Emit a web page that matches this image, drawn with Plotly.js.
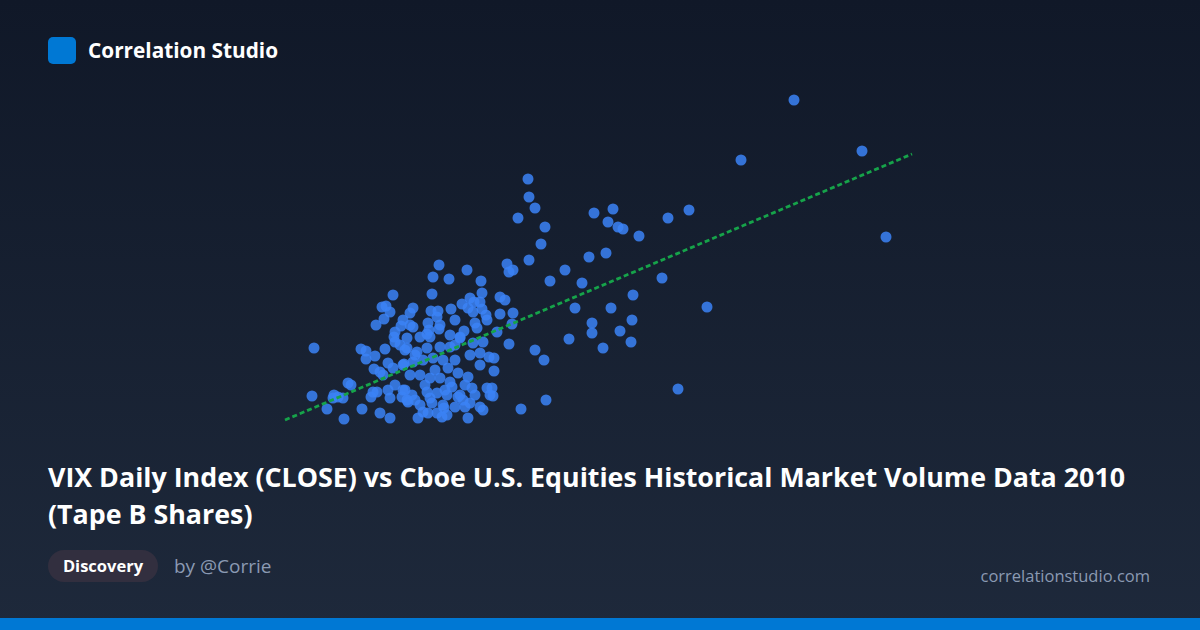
<!DOCTYPE html>
<html>
<head>
<meta charset="utf-8">
<script src="https://cdn.plot.ly/plotly-3.0.1.min.js"></script>
<style>
  html, body { margin: 0; padding: 0; }
  body { width: 1200px; height: 630px; overflow: hidden; position: relative;
         background: linear-gradient(180deg, #101828 0%, #1e293b 100%);
         font-family: "Open Sans", "Noto Sans", sans-serif; }
  #chart { position: absolute; left: 0; top: 0; width: 1200px; height: 630px; }
  .logo { position: absolute; left: 48px; top: 37px; width: 28px; height: 27px; background: #0078d4; border-radius: 5px; }
  .brand { position: absolute; left: 88px; top: 36px; font-size: 20.8px; font-weight: 700; color: #ffffff; line-height: 28px; }
  .title { position: absolute; left: 48px; top: 458px; width: 1130px; font-size: 26.8px; font-weight: 700; color: #ffffff; line-height: 37px; }
  .pill { position: absolute; left: 48px; top: 550px; height: 32px; width: 110px; border-radius: 16px; background: #322f3f;
          color: #fff; font-weight: 700; font-size: 16.5px; line-height: 32px; text-align: center; }
  .by { position: absolute; left: 174px; top: 552px; font-size: 19px; color: #8b9ab3; line-height: 28px; }
  .url { position: absolute; right: 50px; top: 562px; font-size: 16.5px; color: #8b9ab3; line-height: 28px; }
  .bar { position: absolute; left: 0; bottom: 0; width: 1200px; height: 12px; background: #0078d4; }
</style>
</head>
<body>
<div id="chart"></div>
<div class="logo"></div>
<div class="brand">Correlation Studio</div>
<div class="title">VIX Daily Index (CLOSE) vs Cboe U.S. Equities Historical Market Volume Data 2010<br>(Tape B Shares)</div>
<div class="pill">Discovery</div>
<div class="by">by @Corrie</div>
<div class="url">correlationstudio.com</div>
<div class="bar"></div>
<script>
// VIX daily close (x) vs Tape B share volume, millions (y)
const vixClose = [
 39.70,37.05,43.10,44.30,35.35,33.90,34.45,33.40,33.10,31.95,31.15,30.90,30.40,30.65,29.70,30.30,29.45,29.10,28.75,28.25,
 27.50,26.40,26.45,26.75,25.90,27.25,27.05,26.45,25.35,25.65,25.45,31.65,30.55,31.60,31.00,31.55,30.15,29.60,29.60,28.45,
 26.75,27.20,26.05,27.30,25.65,25.60,25.45,25.00,25.25,25.00,24.85,24.70,24.45,24.70,24.60,24.65,15.70,15.60,
 19.65,19.10,19.30,19.50,19.20,18.80,20.15,20.05,19.75,19.70,20.50,20.50,21.95,23.35,21.65,22.45,24.05,21.60,24.10,
 20.65,21.55,21.90,22.55,23.10,23.50,23.70,24.00,23.40,23.65,24.10,24.30,21.40,21.85,21.95,21.45,23.75,23.85,23.20,24.35,
 21.35,22.50,23.00,20.65,
 18.05,18.30,18.30,18.75,19.25,19.75,20.00,20.25,18.70,19.15,19.40,19.65,20.20,19.00,17.40,17.55,16.70,16.65,16.90,17.15,
 18.65,18.85,18.55,19.40,19.75,19.50,20.15,20.10,16.35,18.10,19.00,17.20,20.40,
 20.35,21.00,21.50,23.00,20.35,20.85,21.35,22.00,22.50,23.65,24.15,24.00,20.15,20.65,21.15,21.65,22.15,22.40,22.90,23.40,
 24.00,20.50,21.00,21.50,22.00,22.50,23.25,23.60,24.35,24.50,20.25,20.60,20.75,21.35,21.85,22.35,22.90,23.15,23.50,21.00,
 21.60,22.15,22.75,21.15,21.85,22.35,23.25,24.00,24.15,20.90,23.40,22.10,20.35,21.40,22.60,22.20,19.50,
 21.25,21.75,22.75,22.25,20.75,23.00,23.75,21.50,23.50,22.75,22.00,22.75
];
const tapeBVolume = [
 2350,2050,2095,1665,1315,905,1800,1760,1460,1670,1705,1715,1740,1805,1785,1585,1565,1435,1310,1500,
 1445,1955,1865,1810,1760,1715,1630,1550,1530,1500,1490,1375,1310,1250,1195,1140,1110,1235,1185,1155,
 1100,1050,805,850,1285,1230,1130,1365,1350,1280,1190,1060,1065,995,910,870,1110,870,
 1375,1315,1320,1290,1255,1225,1250,1220,1190,1165,1285,1225,1525,1500,1465,1455,1445,1380,1385,
 1310,1295,1295,1305,1330,1360,1340,1340,1310,1290,1305,1275,1235,1265,1205,1200,1235,1210,1195,1250,
 1180,1175,1165,1215,
 1105,1095,1055,1070,1105,1140,1125,1100,1005,975,1035,1010,1030,990,935,925,875,860,865,860,
 890,890,865,900,925,860,900,865,805,805,785,755,840,
 1160,1165,1165,1160,1110,1090,1110,1115,1115,1135,1140,1085,1025,1040,1050,1060,1050,1010,985,965,
 1025,975,975,960,960,940,925,910,910,875,900,875,850,890,885,875,865,850,835,825,
 835,825,815,790,785,775,815,815,800,760,760,765,850,785,915,810,760,
 925,1000,1050,900,1075,875,875,860,1075,1125,1225,1250
];
// Dotted trend line as drawn (end points)
const trendVix = [14.25, 45.60];
const trendVolume = [750, 2080];

const traces = [
  { type: 'scatter', mode: 'markers', x: vixClose, y: tapeBVolume,
    marker: { color: '#3b82f6', size: 11, opacity: 0.85, line: { width: 0 } },
    hoverinfo: 'skip', showlegend: false },
  { type: 'scatter', mode: 'lines', x: trendVix, y: trendVolume,
    line: { color: '#16a34a', width: 2.8, dash: '5px,3px' },
    hoverinfo: 'skip', showlegend: false }
];
const layout = {
  width: 1200, height: 630,
  margin: { l: 280, r: 280, t: 90, b: 200 },
  paper_bgcolor: 'rgba(0,0,0,0)', plot_bgcolor: 'rgba(0,0,0,0)',
  xaxis: { range: [14, 46], visible: false, fixedrange: true },
  yaxis: { range: [700, 2400], visible: false, fixedrange: true },
  showlegend: false
};
Plotly.newPlot('chart', traces, layout, { displayModeBar: false, staticPlot: true });
</script>
</body>
</html>
